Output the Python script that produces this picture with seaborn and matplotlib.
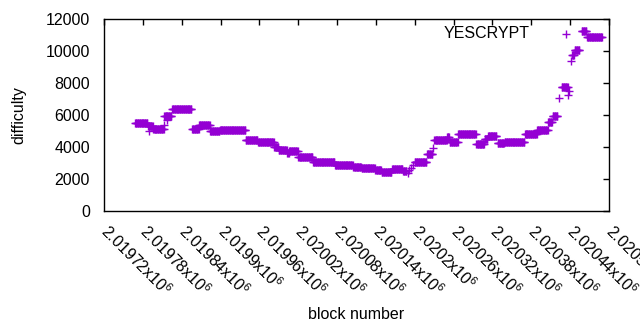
import numpy as np
import pandas as pd
import matplotlib
matplotlib.use("Agg")
import matplotlib.pyplot as plt
import seaborn as sns

# difficulty levels: block range [start, end) and value
seg_start = [2019768, 2019788, 2019796, 2019813, 2019825, 2019856, 2019867, 2019884,
             2019899, 2019939, 2019958, 2019983, 2019990, 2020003, 2020006, 2020020,
             2020043, 2020077, 2020105, 2020118, 2020139, 2020149, 2020165, 2020182,
             2020200, 2020219, 2020230, 2020250, 2020254, 2020267, 2020295, 2020308,
             2020313, 2020328, 2020339, 2020370, 2020389, 2020406, 2020413, 2020427,
             2020443, 2020447, 2020458, 2020466]
seg_end = [2019788, 2019796, 2019813, 2019825, 2019856, 2019867, 2019884, 2019899,
           2019939, 2019958, 2019983, 2019990, 2020003, 2020006, 2020020, 2020043,
           2020077, 2020105, 2020118, 2020139, 2020149, 2020165, 2020182, 2020188,
           2020219, 2020228, 2020250, 2020254, 2020267, 2020295, 2020308, 2020313,
           2020327, 2020339, 2020370, 2020389, 2020406, 2020413, 2020421, 2020437,
           2020447, 2020455, 2020466, 2020490]
seg_diff = [5480, 5330, 5100, 5940, 6350, 5100, 5375, 5020,
            5040, 4440, 4290, 4020, 3810, 3600, 3750, 3350,
            3040, 2875, 2770, 2670, 2560, 2420, 2625, 2500,
            3080, 3540, 4440, 4650, 4330, 4810, 4170, 4500,
            4710, 4230, 4330, 4790, 5060, 5580, 5940, 7730,
            9750, 10060, 11270, 10850]

# odd single blocks
pt_block = [2019790, 2019812, 2019817, 2020189, 2020191, 2020194, 2020197, 2020228,
            2020423, 2020437, 2020438, 2020441]
pt_diff = [5020, 5375, 5690, 2350, 2550, 2700, 2850, 3940,
           7040, 7250, 7500, 9400]

xticks = list(range(2019720, 2020501, 60))
xlabels = ["%sx10$^{6}$" % ("%.6f" % (t / 1e6)).rstrip("0") for t in xticks]

blocks, diffs = [], []
for a, b, d in zip(seg_start, seg_end, seg_diff):
    for blk in range(a, b):
        blocks.append(blk)
        diffs.append(d)
blocks += pt_block
diffs += pt_diff
df = pd.DataFrame({"block": blocks, "difficulty": diffs})

sns.set_theme(style="white")
plt.rcParams["font.family"] = ["Liberation Sans", "DejaVu Sans"]
plt.rcParams["text.color"] = "black"
plt.rcParams["mathtext.fontset"] = "custom"
plt.rcParams["mathtext.rm"] = "Liberation Sans"
plt.rcParams["mathtext.it"] = "Liberation Sans"

fs = 11.5
fig = plt.figure(figsize=(6.4, 3.3), dpi=100)
ax = fig.add_axes([0.1625, 0.3606, 0.7891, 0.5818])

sns.scatterplot(data=df, x="block", y="difficulty", marker="+", s=30,
                color="#9400d3", linewidth=1.0, ax=ax, label="YESCRYPT")

ax.set_xlim(2019720, 2020500)
ax.set_ylim(0, 12000)
ax.set_yticks(range(0, 12001, 2000))
ax.set_xticks(xticks)
ax.set_xticklabels(xlabels, rotation=-45, ha="left", va="center",
                   rotation_mode="anchor", fontsize=fs)
ax.tick_params(axis="y", labelsize=fs, pad=10)
ax.tick_params(axis="x", pad=12)
ax.tick_params(direction="in", length=4, width=1, top=True, right=True,
               color="black", labelcolor="black")
for s in ax.spines.values():
    s.set_color("black")
    s.set_linewidth(1)

ax.set_xlabel("block number", fontsize=fs, color="black", va="center")
ax.xaxis.set_label_coords(0.5, -0.54)
ax.set_ylabel("difficulty", fontsize=fs, color="black", labelpad=14)

leg = ax.legend(loc="upper right", bbox_to_anchor=(0.954, 0.965), frameon=False,
                markerfirst=False, fontsize=fs, handlelength=2.5, borderaxespad=0,
                borderpad=0, handletextpad=1.0)
for t in leg.get_texts():
    t.set_color("black")

fig.savefig("out.png", dpi=100)
